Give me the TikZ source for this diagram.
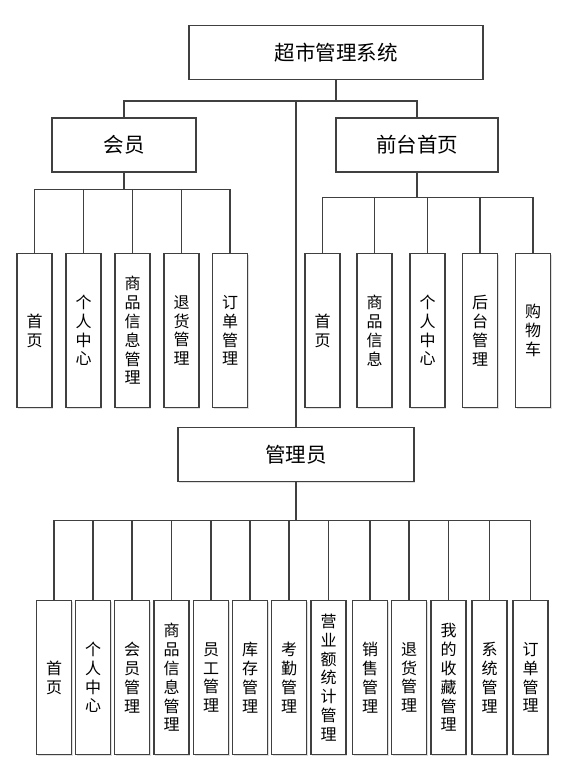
\documentclass[tikz,border=0pt]{standalone}
\usepackage{fontspec}
\usepackage{tikz}
\usetikzlibrary{positioning, shadows}
\newfontfamily\cjk{Noto Sans CJK SC}

\begin{document}
\begin{tikzpicture}[
    x=1pt, y=-1pt,
    headbox/.style={
        draw=black!75,
        fill=white,
        line width=1.1pt,
        align=center,
        minimum height=54pt,
        inner sep=0pt,
        font=\cjk\fontsize{20.5}{24}\selectfont,
        drop shadow={shadow xshift=1pt, shadow yshift=-1pt, opacity=0.25}
    },
    leafbox/.style={
        draw=black!75,
        fill=white,
        line width=1.1pt,
        anchor=north,
        align=center,
        minimum width=35pt,
        minimum height=154pt,
        inner sep=0pt,
        font=\cjk\fontsize{16}{18.8}\selectfont,
        drop shadow={shadow xshift=1pt, shadow yshift=-1pt, opacity=0.25}
    },
    link/.style={black!75, line width=1.1pt}
]
\useasboundingbox (0,0) rectangle (560,775);

% ======================
% top level
% ======================
\node[headbox, minimum width=294pt] (sys_root) at (336,52.5) {超市管理系统};
\node[headbox, minimum width=144pt] (member_main) at (124,145) {会员};
\node[headbox, minimum width=162pt] (front_main) at (417,145) {前台首页};
\node[headbox, minimum width=236pt] (admin_main) at (296,454.5) {管理员};

\draw[link] (sys_root.south) -- ++(0,21) -| (member_main.north);
\draw[link] (sys_root.south) -- ++(0,21) -| (front_main.north);
\draw[link] (sys_root.south) -- ++(0,21) -| (admin_main.north);

% ======================
% 会员 column
% ======================
\node[leafbox] (member_home) at (34.5,253) {首\\页};
\node[leafbox] (member_center) at (83.5,253) {个\\人\\中\\心};
\node[leafbox] (member_goods) at (132.5,253) {商\\品\\信\\息\\管\\理};
\node[leafbox] (member_return) at (181.5,253) {退\\货\\管\\理};
\node[leafbox] (member_order) at (230,253) {订\\单\\管\\理};

\draw[link] (member_main.south) -- ++(0,17) -| (member_home.north);
\draw[link] (member_main.south) -- ++(0,17) -| (member_center.north);
\draw[link] (member_main.south) -- ++(0,17) -| (member_goods.north);
\draw[link] (member_main.south) -- ++(0,17) -| (member_return.north);
\draw[link] (member_main.south) -- ++(0,17) -| (member_order.north);

% ======================
% 前台首页 column
% ======================
\node[leafbox] (front_home) at (322.5,253) {首\\页};
\node[leafbox] (front_goods) at (374.5,253) {商\\品\\信\\息};
\node[leafbox] (front_center) at (427.5,253) {个\\人\\中\\心};
\node[leafbox] (front_backend) at (480,253) {后\\台\\管\\理};
\node[leafbox] (front_cart) at (533,253) {购\\物\\车};

\draw[link] (front_main.south) -- ++(0,25) -| (front_home.north);
\draw[link] (front_main.south) -- ++(0,25) -| (front_goods.north);
\draw[link] (front_main.south) -- ++(0,25) -| (front_center.north);
\draw[link] (front_main.south) -- ++(0,25) -| (front_backend.north);
\draw[link] (front_main.south) -- ++(0,25) -| (front_cart.north);

% ======================
% 管理员 column
% ======================
\node[leafbox] (admin_home) at (54,600) {首\\页};
\node[leafbox] (admin_center) at (93,600) {个\\人\\中\\心};
\node[leafbox] (admin_member) at (132,600) {会\\员\\管\\理};
\node[leafbox] (admin_goods) at (171.5,600) {商\\品\\信\\息\\管\\理};
\node[leafbox] (admin_staff) at (211,600) {员\\工\\管\\理};
\node[leafbox] (admin_stock) at (250,600) {库\\存\\管\\理};
\node[leafbox] (admin_attend) at (289,600) {考\\勤\\管\\理};
\node[leafbox] (admin_revenue) at (328.5,600) {营\\业\\额\\统\\计\\管\\理};
\node[leafbox] (admin_sales) at (370,600) {销\\售\\管\\理};
\node[leafbox] (admin_return) at (409,600) {退\\货\\管\\理};
\node[leafbox] (admin_fav) at (448.5,600) {我\\的\\收\\藏\\管\\理};
\node[leafbox] (admin_system) at (489.5,600) {系\\统\\管\\理};
\node[leafbox] (admin_order) at (530.5,600) {订\\单\\管\\理};

\draw[link] (admin_main.south) -- ++(0,38) -| (admin_home.north);
\draw[link] (admin_main.south) -- ++(0,38) -| (admin_center.north);
\draw[link] (admin_main.south) -- ++(0,38) -| (admin_member.north);
\draw[link] (admin_main.south) -- ++(0,38) -| (admin_goods.north);
\draw[link] (admin_main.south) -- ++(0,38) -| (admin_staff.north);
\draw[link] (admin_main.south) -- ++(0,38) -| (admin_stock.north);
\draw[link] (admin_main.south) -- ++(0,38) -| (admin_attend.north);
\draw[link] (admin_main.south) -- ++(0,38) -| (admin_revenue.north);
\draw[link] (admin_main.south) -- ++(0,38) -| (admin_sales.north);
\draw[link] (admin_main.south) -- ++(0,38) -| (admin_return.north);
\draw[link] (admin_main.south) -- ++(0,38) -| (admin_fav.north);
\draw[link] (admin_main.south) -- ++(0,38) -| (admin_system.north);
\draw[link] (admin_main.south) -- ++(0,38) -| (admin_order.north);

\end{tikzpicture}
\end{document}
